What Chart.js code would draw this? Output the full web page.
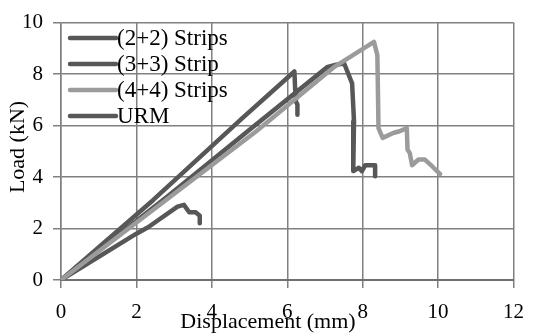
<!DOCTYPE html>
<html>
<head>
<meta charset="utf-8">
<script src="https://cdn.jsdelivr.net/npm/chart.js@4/dist/chart.umd.min.js"></script>
<style>
  html,body{margin:0;padding:0;background:#fff;}
  #wrap{width:536px;height:334px;position:relative;}
</style>
</head>
<body>
<div id="wrap"><canvas id="cv" width="536" height="334"></canvas></div>
<script>
// axis ticks
const xTicks = [0,2,4,6,8,10,12];
const yTicks = [0,2,4,6,8,10];

// series (displacement mm / load kN)
const labels = ['(2+2) Strips','(3+3) Strip','(4+4) Strips','URM'];
const s22X = [0, 2.44, 4.78, 6.19, 6.21, 6.23, 6.27, 6.27];
const s22Y = [0, 3.10, 6.25, 8.10, 7.40, 6.93, 6.82, 6.42];
const s33X = [0, 2.83, 5.00, 7.07, 7.30, 7.51, 7.72, 7.77, 7.75, 7.90, 7.98, 8.07, 8.33, 8.33];
const s33Y = [0, 3.25, 5.84, 8.28, 8.36, 8.41, 7.64, 6.17, 4.23, 4.36, 4.23, 4.46, 4.46, 4.03];
const s44X = [0, 5.17, 7.25, 8.30, 8.39, 8.42, 8.53, 8.81, 8.98, 9.17, 9.19, 9.25, 9.31, 9.48, 9.65, 9.84, 10.02, 10.05];
const s44Y = [0, 5.77, 8.28, 9.25, 8.73, 5.90, 5.52, 5.71, 5.78, 5.90, 5.06, 4.93, 4.46, 4.68, 4.68, 4.42, 4.16, 4.12];
const urmX = [0, 2.00, 2.31, 3.09, 3.26, 3.40, 3.57, 3.68, 3.68];
const urmY = [0, 1.80, 2.05, 2.85, 2.92, 2.63, 2.63, 2.50, 2.20];

const DARK = '#575757', LIGHT = '#9b9b9b';
const FONT = "'Liberation Serif', 'Times New Roman', serif";
const pts = (xs, ys) => xs.map((x,i)=>({x, y: ys[i]}));

function ds(label, xs, ys, color, order){
  return { label, data: pts(xs, ys), borderColor: color, backgroundColor: color,
    borderWidth: 4.5, pointRadius: 0, tension: 0, fill: false, order,
    borderJoinStyle: 'round', borderCapStyle: 'round' };
}

// legend + axis titles drawn inside the chart like the original
const extras = {
  id: 'extras',
  afterDraw(chart){
    const ctx = chart.ctx;
    ctx.save();
    ctx.fillStyle = '#000';
    ctx.textBaseline = 'middle';
    ctx.font = '23px ' + FONT;
    chart.data.datasets.forEach((d, i) => {
      const y = 38 + i * 26;
      ctx.strokeStyle = d.borderColor;
      ctx.lineWidth = 4.5;
      ctx.lineCap = 'round';
      ctx.beginPath(); ctx.moveTo(70, y); ctx.lineTo(116, y); ctx.stroke();
      ctx.textAlign = 'left';
      ctx.fillText(d.label, 117, y + 1);
    });
    ctx.font = '22px ' + FONT;
    ctx.textAlign = 'center';
    ctx.fillText('Displacement (mm)', 268, 322);
    ctx.translate(18, 147);
    ctx.rotate(-Math.PI / 2);
    ctx.fillText('Load (kN)', 0, 0);
    ctx.restore();
  }
};

new Chart(document.getElementById('cv'), {
  type: 'line',
  data: { datasets: [
    ds(labels[0], s22X, s22Y, DARK, 1),
    ds(labels[1], s33X, s33Y, DARK, 2),
    ds(labels[2], s44X, s44Y, LIGHT, 0),
    ds(labels[3], urmX, urmY, DARK, 3)
  ]},
  options: {
    responsive: false, animation: false,
    layout: { padding: { left: 0, right: 13, top: 20, bottom: 0 } },
    plugins: { legend: { display: false }, tooltip: { enabled: false } },
    scales: {
      x: { type: 'linear', min: 0, max: 12,
        afterFit: s => { s.height = 54; },
        afterBuildTicks: s => { s.ticks = xTicks.map(v => ({value: v})); },
        ticks: { color: '#000', font: { family: FONT, size: 21 }, padding: 12, maxRotation: 0 },
        grid: { color: '#808080', lineWidth: 1.5, tickLength: 8 },
        border: { color: '#707070', width: 2 } },
      y: { min: 0, max: 10,
        afterFit: s => { s.width = 61; },
        afterBuildTicks: s => { s.ticks = yTicks.map(v => ({value: v})); },
        ticks: { color: '#000', font: { family: FONT, size: 21 }, padding: 10 },
        grid: { color: '#808080', lineWidth: 1.5, tickLength: 8 },
        border: { color: '#808080', width: 1.5 } }
    }
  },
  plugins: [extras]
});
</script>
</body>
</html>
